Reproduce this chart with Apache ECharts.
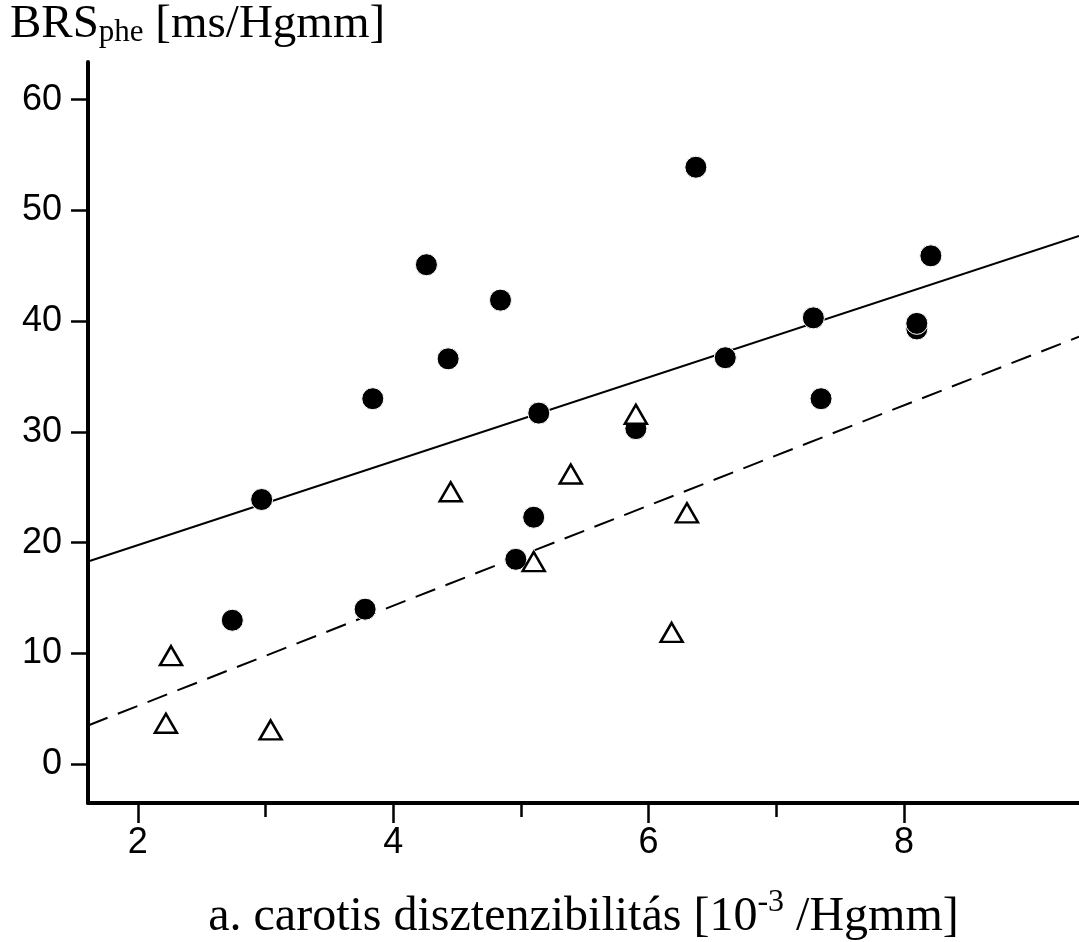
<!DOCTYPE html>
<html>
<head>
<meta charset="utf-8">
<script src="https://cdn.jsdelivr.net/npm/echarts@6/dist/echarts.min.js"></script>
<style>
  html, body { margin: 0; padding: 0; background: #fff; }
  #main { width: 1079px; height: 942px; }
</style>
</head>
<body>
<div id="main"></div>
<script>
// filled circles
var circleX = [2.74, 2.97, 3.78, 3.84, 4.26, 4.43, 4.84, 5.10, 5.14, 4.96, 5.90, 6.37, 6.60, 7.29, 7.35, 8.10, 8.10, 8.21];
var circleY = [13.0, 23.9, 14.0, 33.0, 45.1, 36.6, 41.9, 22.3, 31.7, 18.5, 30.3, 53.9, 36.7, 40.3, 33.0, 39.3, 39.8, 45.9];
// open triangles
var triX = [2.26, 2.22, 3.04, 4.45, 5.10, 5.39, 5.90, 6.30, 6.18];
var triY = [9.8, 3.7, 3.1, 24.6, 18.3, 26.2, 31.6, 22.7, 11.9];
// regression lines (end points)
var lineX = [1.61, 9.37];
var solidY = [18.3, 47.7];
var dashedY = [3.5, 38.6];
var xTicks = [2, 4, 6, 8];
var xMinorTicks = [3, 5, 7];
var yTicks = [0, 10, 20, 30, 40, 50, 60];

function pairs(xs, ys) {
    var out = [];
    for (var i = 0; i < xs.length; i++) out.push([xs[i], ys[i]]);
    return out;
}

var chart = echarts.init(document.getElementById('main'));
var option = {
    animation: false,
    grid: { left: 88, right: 0, top: 62, bottom: 139, containLabel: false, outerBoundsMode: 'none' },
    xAxis: [
        {
            type: 'value', min: 1.61, max: 9.37, position: 'bottom',
            name: '{t|a. carotis disztenzibilitás [10}{sup|-3}{t| /Hgmm]}',
            nameLocation: 'middle', nameGap: 84,
            nameTextStyle: {
                rich: {
                    t: { fontFamily: 'Liberation Serif', fontSize: 48, color: '#000' },
                    sup: { fontFamily: 'Liberation Serif', fontSize: 32, color: '#000', verticalAlign: 'top', padding: [0, 0, 28, 0] }
                }
            },
            axisLine: { onZero: false, lineStyle: { color: '#000', width: 4 } },
            axisTick: { customValues: xTicks, length: 20, lineStyle: { color: '#000', width: 2.5 } },
            axisLabel: { customValues: xTicks, margin: 22, fontFamily: 'Liberation Sans', fontSize: 36, color: '#000' },
            splitLine: { show: false }
        },
        {
            type: 'value', min: 1.61, max: 9.37, position: 'bottom', gridIndex: 0,
            axisLine: { show: false, onZero: false },
            axisTick: { customValues: xMinorTicks, length: 14, lineStyle: { color: '#000', width: 2.5 } },
            axisLabel: { show: false },
            splitLine: { show: false }
        }
    ],
    yAxis: {
        type: 'value', min: -3.5, max: 63.4,
        name: '{t|BRS}{sub|phe}{t| [ms/Hgmm]}',
        nameLocation: 'end', nameGap: 14,
        nameTextStyle: {
            align: 'left', verticalAlign: 'bottom', padding: [0, 0, 0, -78],
            rich: {
                t: { fontFamily: 'Liberation Serif', fontSize: 47, color: '#000' },
                sub: { fontFamily: 'Liberation Serif', fontSize: 31, color: '#000', verticalAlign: 'bottom', padding: [16, 0, 0, 0] }
            }
        },
        axisLine: { show: true, onZero: false, lineStyle: { color: '#000', width: 4 } },
        axisTick: { show: true, customValues: yTicks, length: 17, lineStyle: { color: '#000', width: 2.5 } },
        axisLabel: { customValues: yTicks, margin: 26, fontFamily: 'Liberation Sans', fontSize: 36, color: '#000' },
        splitLine: { show: false }
    },
    series: [
        {
            type: 'line', data: pairs(lineX, solidY), symbol: 'none', z: 1,
            lineStyle: { color: '#000', width: 2 }
        },
        {
            type: 'line', data: pairs(lineX, dashedY), symbol: 'none', z: 1,
            lineStyle: { color: '#000', width: 2, type: [21, 11] }
        },
        {
            type: 'scatter', data: pairs(circleX, circleY), symbol: 'circle', symbolSize: 22, z: 3,
            itemStyle: { color: '#000', borderColor: '#fff', borderWidth: 1, opacity: 1 }
        },
        {
            type: 'scatter', data: pairs(triX, triY), symbol: 'triangle', symbolSize: [22, 19], z: 4,
            itemStyle: { color: '#fff', borderColor: '#000', borderWidth: 2.5, opacity: 1 }
        }
    ]
};
chart.setOption(option);
</script>
</body>
</html>
